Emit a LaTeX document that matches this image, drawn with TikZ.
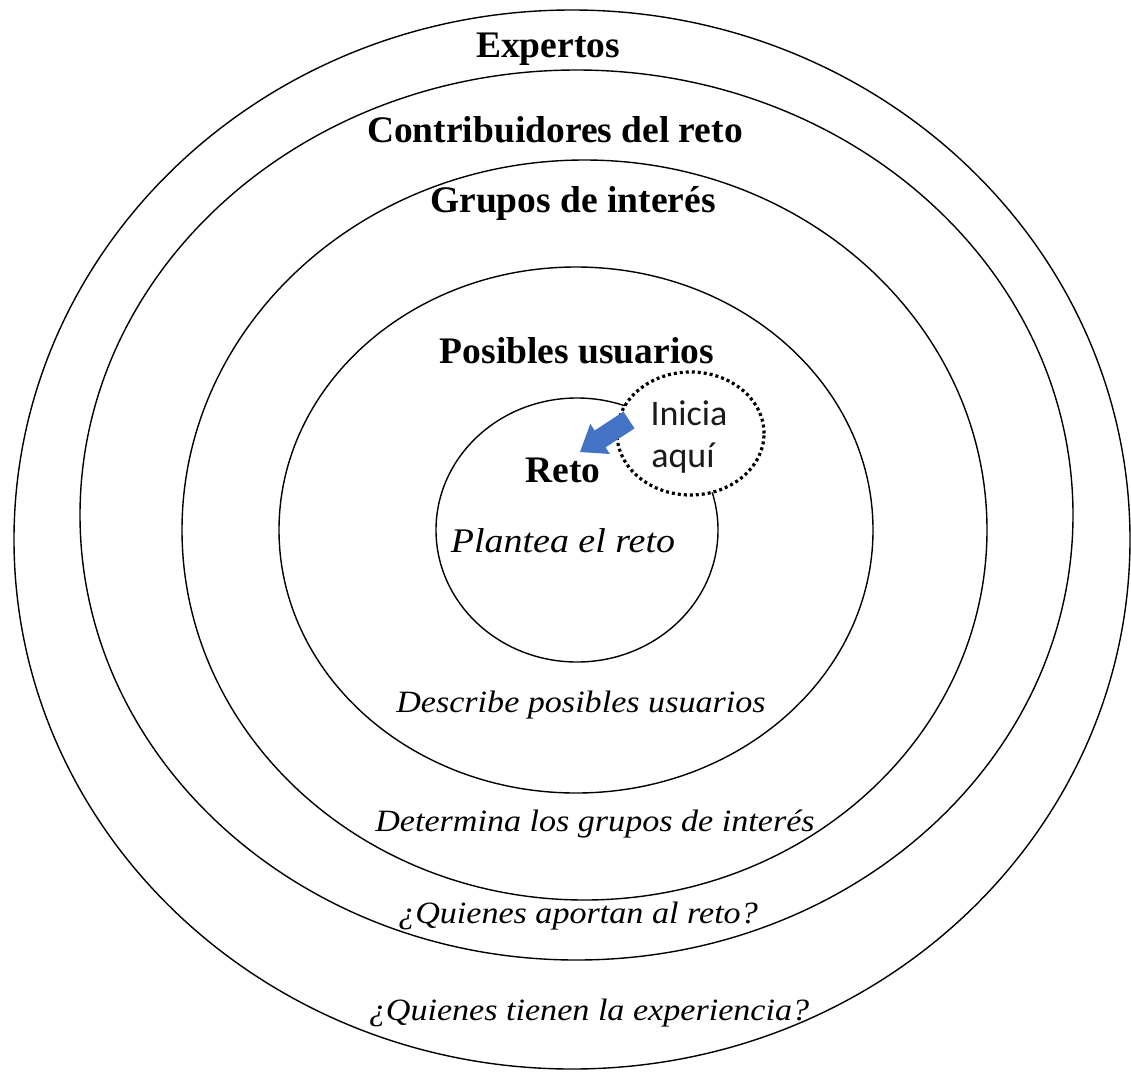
\documentclass[tikz,border=0pt]{standalone}
\usepackage{fontspec}
\setmainfont{Liberation Serif}
\newfontfamily\headfont{Liberation Serif}
\newfontfamily\notefont{Liberation Serif}[FakeStretch=1.1]
\newfontfamily\tagfont{Carlito}
\usetikzlibrary{shapes.geometric}
\definecolor{arrowblue}{HTML}{4472C4}
\definecolor{tagtext}{HTML}{1A1A1A}
\tikzset{
  ring/.style={draw=black, line width=1.4pt, ellipse, inner sep=0pt},
  head/.style={anchor=base, inner sep=0pt, font=\headfont\bfseries\fontsize{37.5}{40}\selectfont},
  note/.style={anchor=base, inner sep=0pt, font=\notefont\itshape\fontsize{31}{34}\selectfont},
  starttag/.style={ellipse, draw=black, fill=white, line width=3.2pt,
    dash pattern=on 3pt off 3pt, inner sep=0pt},
  tagword/.style={anchor=base, inner sep=0pt, text=tagtext,
    font=\tagfont\fontsize{36}{42}\selectfont},
}
\begin{document}
\begin{tikzpicture}[x=1pt, y=-1pt]
  \useasboundingbox (0,0) rectangle (1131,1071);
  \fill[white] (0,0) rectangle (1131,1071);

  % nested rings, outermost first
  \node[ring, minimum width=1116pt, minimum height=1059pt] (expertos) at (572,539.5) {};
  \node[ring, minimum width=993pt, minimum height=890pt] (contrib) at (576.5,515) {};
  \node[ring, minimum width=805pt, minimum height=740pt] (grupos) at (584.5,530) {};
  \node[ring, minimum width=594pt, minimum height=526pt] (usuarios) at (576,530) {};
  \node[ring, minimum width=282pt, minimum height=264pt] (reto) at (577,530) {};

  % ring titles
  \node[head] (t1) at (548,57) {Expertos};
  \node[head] (t2) at (555,142) {Contribuidores del reto};
  \node[head] (t3) at (573,212) {Grupos de interés};
  \node[head] (t4) at (577,363) {Posibles usuarios};
  \node[head] (t5) at (563,482) {Reto};

  % ring descriptions
  \node[note, font=\notefont\itshape\fontsize{34.5}{36}\selectfont] (d5) at (563,552) {Plantea el reto};
  \node[note] (d4) at (581,712) {Describe posibles usuarios};
  \node[note] (d3) at (595,831) {Determina los grupos de interés};
  \node[note] (d2) at (578,923) {¿Quienes aportan al reto?};
  \node[note] (d1) at (589,1020) {¿Quienes tienen la experiencia?};

  % start marker
  \node[starttag, minimum width=147pt, minimum height=123pt] (inicio) at (690.5,433.5) {};
  \node[tagword] (inicia) at (689,425) {Inicia};
  \node[tagword] (aqui) at (683,467) {aquí};

  % block arrow pointing into the centre ring
  \fill[arrowblue] (623.5,411.6) -- (594.6,430.5) -- (590.3,423.8) -- (580,452)
    -- (609.9,454.0) -- (605.6,447.3) -- (634.5,428.4) -- cycle;
\end{tikzpicture}
\end{document}
